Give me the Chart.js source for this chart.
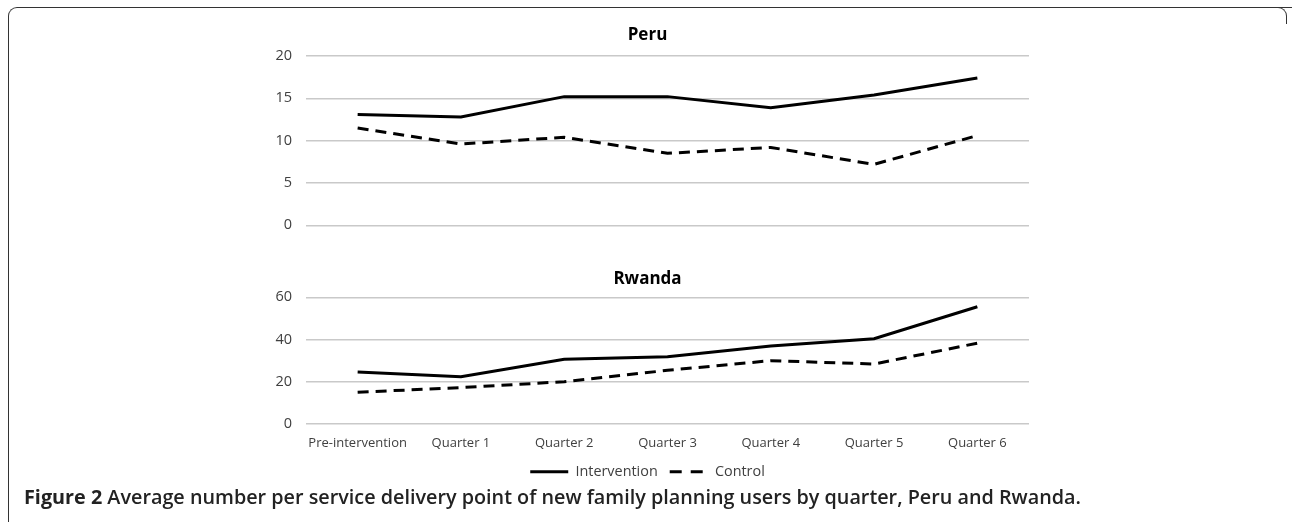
<!DOCTYPE html>
<html>
<head>
<meta charset="utf-8">
<script src="https://cdn.jsdelivr.net/npm/chart.js@4.4.1/dist/chart.umd.min.js"></script>
<style>
    html, body { margin: 0; padding: 0; background: #fff; }
    body { width: 1292px; height: 522px; position: relative; overflow: hidden; font-family: "Open Sans", sans-serif; }
    .frame { position: absolute; left: 8px; top: 7px; width: 1300px; height: 540px; border-left: 1.5px solid #333; border-top: 1.5px solid #333; border-radius: 9px 0 0 0; }
    .corner { position: absolute; left: 1276px; top: 7px; width: 10px; height: 16px; border-top: 1.5px solid #333; border-right: 1.5px solid #333; border-radius: 0 9px 0 0; }
    .box { position: absolute; left: 0; width: 1292px; }
    #peruBox { top: 0; height: 248px; }
    #rwandaBox { top: 240px; height: 249px; }
    .caption { position: absolute; left: 24px; top: 484px; font-size: 19.8px; font-weight: 600; color: #222; white-space: nowrap; line-height: 26px; }
    .caption b { font-weight: 700; }
</style>
</head>
<body>
<div class="frame"></div>
<div class="corner"></div>
<div class="box" id="peruBox"><canvas id="peruChart"></canvas></div>
<div class="box" id="rwandaBox"><canvas id="rwandaChart"></canvas></div>
<div class="caption"><b>Figure 2</b> Average number per service delivery point of new family planning users by quarter, Peru and Rwanda.</div>

<script>
// Data
const quarters = ['Pre-intervention', 'Quarter 1', 'Quarter 2', 'Quarter 3', 'Quarter 4', 'Quarter 5', 'Quarter 6'];
const peruIntervention = [13.1, 12.8, 15.2, 15.2, 13.9, 15.4, 17.4];
const peruControl = [11.5, 9.6, 10.4, 8.5, 9.2, 7.2, 10.6];
const rwandaIntervention = [24.5, 22.3, 30.6, 31.8, 36.9, 40.3, 55.5];
const rwandaControl = [14.9, 17.1, 19.9, 25.3, 29.9, 28.3, 38.2];
const seriesNames = ['Intervention', 'Control'];
const peruTicks = { max: 20, step: 5 };
const rwandaTicks = { max: 60, step: 20 };

const textColor = '#404040';
const gridColor = '#c9c9c9';

function makeDatasets(intervention, control) {
    return [{
        label: seriesNames[0],
        data: intervention,
        borderColor: '#000',
        backgroundColor: '#000',
        borderWidth: 3,
        pointRadius: 0,
        tension: 0
    }, {
        label: seriesNames[1],
        data: control,
        borderColor: '#000',
        backgroundColor: '#000',
        borderWidth: 3,
        borderDash: [11, 7],
        pointRadius: 0,
        tension: 0
    }];
}

// legend entries drawn as short lines, dashed for the control series
function legendLabels(chart) {
    const items = Chart.defaults.plugins.legend.labels.generateLabels(chart);
    items.forEach((item, i) => {
        const ds = chart.data.datasets[i];
        item.pointStyle = 'line';
        item.strokeStyle = '#000';
        item.lineWidth = 3;
        item.lineDash = ds.borderDash ? [12, 9] : [];
        item.lineCap = 'butt';
    });
    return items;
}

function makeOptions(title, ticks, titlePad, showX, showLegend, padBottom) {
    const axisHeight = showX ? 29 : 0;
    return {
        responsive: true,
        maintainAspectRatio: false,
        animation: false,
        layout: { padding: { left: 266, right: 263, top: 0, bottom: padBottom } },
        plugins: {
            title: {
                display: true,
                text: title,
                color: '#000',
                font: { family: 'Open Sans', size: 17, weight: 'bold' },
                padding: titlePad
            },
            legend: {
                display: showLegend,
                position: 'bottom',
                labels: {
                    usePointStyle: true,
                    pointStyle: 'line',
                    pointStyleWidth: 38,
                    padding: 12,
                    color: textColor,
                    font: { family: 'Open Sans', size: 14.4 },
                    generateLabels: legendLabels
                }
            },
            tooltip: { enabled: false }
        },
        scales: {
            x: {
                display: showX,
                offset: true,
                afterFit: function(scale) { scale.height = axisHeight; },
                grid: { display: false, drawTicks: false },
                border: { display: false },
                ticks: {
                    color: textColor,
                    padding: 12,
                    maxRotation: 0,
                    autoSkip: false,
                    font: { family: 'Open Sans', size: 13 }
                }
            },
            y: {
                min: 0,
                max: ticks.max,
                afterFit: function(scale) { scale.width = 40; },
                grid: { color: gridColor, lineWidth: 1.5, drawTicks: false },
                border: { display: false },
                ticks: {
                    stepSize: ticks.step,
                    padding: 14,
                    color: textColor,
                    font: { family: 'Open Sans', size: 14.5 }
                }
            }
        }
    };
}

new Chart(document.getElementById('peruChart'), {
    type: 'line',
    data: { labels: quarters, datasets: makeDatasets(peruIntervention, peruControl) },
    options: makeOptions('Peru', peruTicks, { top: 25, bottom: 10.6 }, false, false, 7)
});

new Chart(document.getElementById('rwandaChart'), {
    type: 'line',
    data: { labels: quarters, datasets: makeDatasets(rwandaIntervention, rwandaControl) },
    options: makeOptions('Rwanda', rwandaTicks, { top: 28.5, bottom: 8.4 }, true, true, 0)
});
</script>
</body>
</html>
